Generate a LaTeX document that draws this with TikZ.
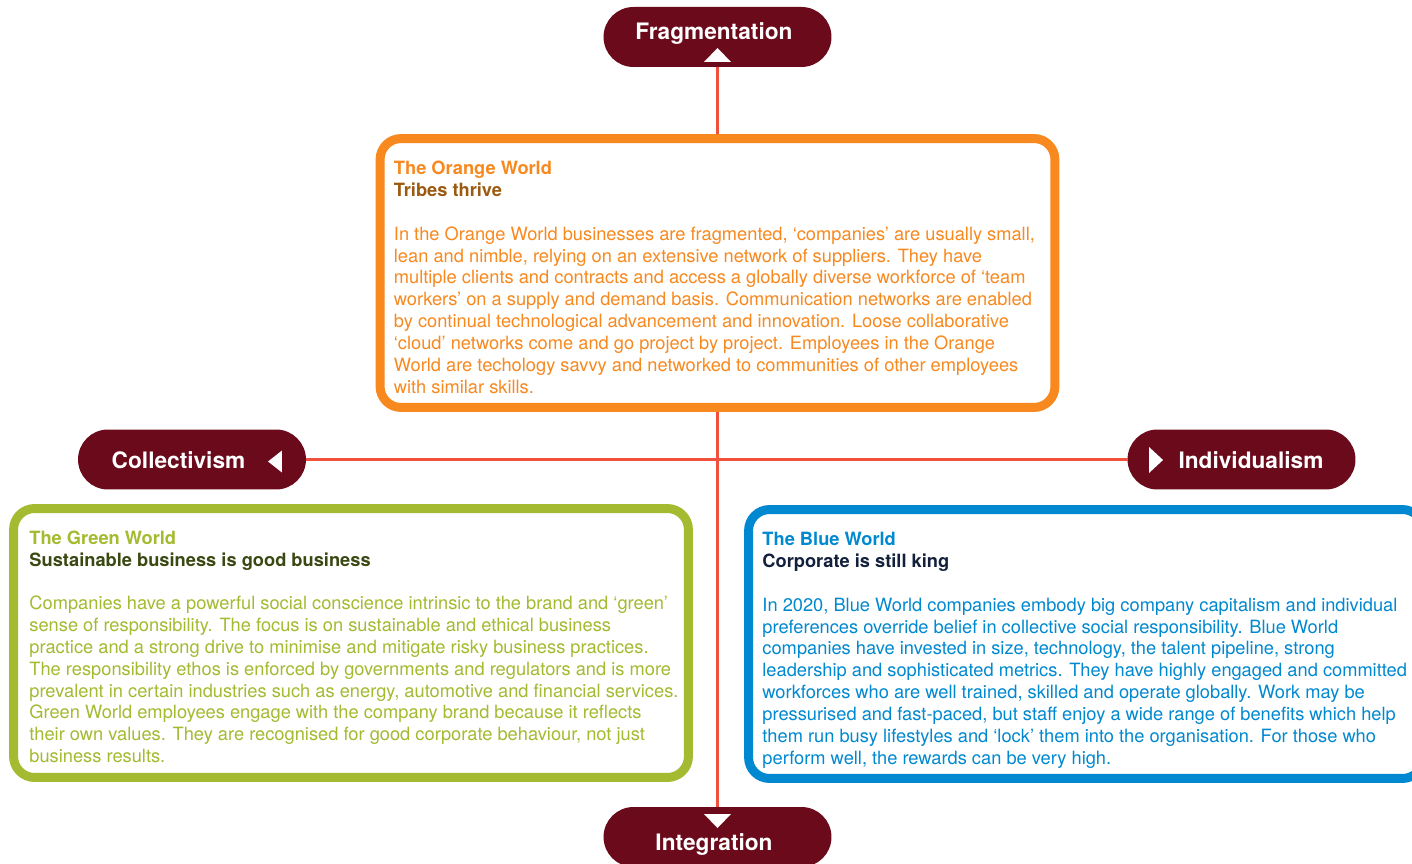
\documentclass[tikz,border=0pt]{standalone}
\usepackage{fontspec}
\setmainfont{TeX Gyre Heros}
\usepackage{xcolor}
\usetikzlibrary{positioning, calc}
\definecolor{pillred}{RGB}{106,10,27}
\definecolor{linered}{RGB}{240,80,60}
\definecolor{orangeworld}{RGB}{247,137,31}
\definecolor{orangedark}{RGB}{156,90,16}
\definecolor{greenworld}{RGB}{164,186,48}
\definecolor{greendark}{RGB}{58,72,18}
\definecolor{blueworld}{RGB}{0,137,208}
\definecolor{bluedark}{RGB}{18,32,60}
\tikzset{
    pill/.style={
        rectangle,
        rounded corners=0.6cm,
        fill=pillred,
        minimum width=4.56cm,
        minimum height=1.2cm,
        inner sep=0pt,
        outer sep=0pt
    },
    pilltext/.style={
        anchor=base,
        text=white,
        inner sep=0pt,
        font=\fontsize{12.9pt}{15pt}\selectfont\bfseries
    },
    world/.style={
        rectangle,
        draw=#1,
        line width=5.1pt,
        rounded corners=0.42cm,
        fill=white,
        minimum width=13.5cm,
        minimum height=5.38cm,
        inner sep=0pt,
        outer sep=0pt
    },
    worldtext/.style={
        anchor=base west,
        align=left,
        inner sep=0pt,
        text=#1,
        font=\fontsize{10.4pt}{12.42pt}\selectfont
    },
    axisline/.style={
        draw=linered,
        line width=1.5pt
    },
    pointer/.style={
        fill=white
    }
}

\begin{document}
\begin{tikzpicture}[x=0.02cm, y=-0.02cm]
\useasboundingbox (0,0) rectangle (1412,864);

\node[pill] (frag) at (717.5,37) {};
\node[pill] (integ) at (717.5,837) {};
\node[pill] (coll) at (192,459.5) {};
\node[pill] (indiv) at (1241.5,459.5) {};

\draw[axisline] (frag.south) -- (integ.north);
\draw[axisline] (coll.east) -- (indiv.west);

\node[pilltext] (fragtext) at (714,39.5) {Fragmentation};
\node[pilltext] (integtext) at (714,850.5) {Integration};
\node[pilltext] (colltext) at (178.5,468.3) {Collectivism};
\node[pilltext] (indivtext) at (1251,468.3) {Individualism};

\fill[pointer] ($(frag.south)+(-13.5,-5)$) -- ($(frag.south)+(13.5,-5)$) -- ($(frag.south)+(0,-19)$) -- cycle;
\fill[pointer] ($(integ.north)+(-13.5,7)$) -- ($(integ.north)+(13.5,7)$) -- ($(integ.north)+(0,21)$) -- cycle;
\fill[pointer] ($(coll.east)+(-24,-9)$) -- ($(coll.east)+(-24,13)$) -- ($(coll.east)+(-38,2)$) -- cycle;
\fill[pointer] ($(indiv.west)+(21.5,-12.5)$) -- ($(indiv.west)+(21.5,13.5)$) -- ($(indiv.west)+(35.5,0.5)$) -- cycle;

\node[world=orangeworld] (orange) at (717.5,273) {};
\node[world=greenworld] (green) at (351,643) {};
\node[world=blueworld] (blue) at (1086,644) {};

\node[worldtext=orangeworld] (orangetext) at ($(orange.north west)+(13.5,254.5)$) {%
\textbf{The Orange World}\\
\textcolor{orangedark}{\textbf{Tribes thrive}}\\[12.42pt]
In the Orange World businesses are fragmented, ‘companies’ are usually small,\\
lean and nimble, relying on an extensive network of suppliers. They have\\
multiple clients and contracts and access a globally diverse workforce of ‘team\\
workers’ on a supply and demand basis. Communication networks are enabled\\
by continual technological advancement and innovation. Loose collaborative\\
‘cloud’ networks come and go project by project. Employees in the Orange\\
World are techology savvy and networked to communities of other employees\\
with similar skills.};

\node[worldtext=greenworld] (greentext) at ($(green.north west)+(15.5,254)$) {%
\textbf{The Green World}\\
\textcolor{greendark}{\textbf{Sustainable business is good business}}\\[12.42pt]
Companies have a powerful social conscience intrinsic to the brand and ‘green’\\
sense of responsibility. The focus is on sustainable and ethical business\\
practice and a strong drive to minimise and mitigate risky business practices.\\
The responsibility ethos is enforced by governments and regulators and is more\\
prevalent in certain industries such as energy, automotive and financial services.\\
Green World employees engage with the company brand because it reflects\\
their own values. They are recognised for good corporate behaviour, not just\\
business results.};

\node[worldtext=blueworld] (bluetext) at ($(blue.north west)+(13.5,254.5)$) {%
\textbf{The Blue World}\\
\textcolor{bluedark}{\textbf{Corporate is still king}}\\[12.42pt]
In 2020, Blue World companies embody big company capitalism and individual\\
preferences override belief in collective social responsibility. Blue World\\
companies have invested in size, technology, the talent pipeline, strong\\
leadership and sophisticated metrics. They have highly engaged and committed\\
workforces who are well trained, skilled and operate globally. Work may be\\
pressurised and fast-paced, but staff enjoy a wide range of benefits which help\\
them run busy lifestyles and ‘lock’ them into the organisation. For those who\\
perform well, the rewards can be very high.};

\end{tikzpicture}
\end{document}
